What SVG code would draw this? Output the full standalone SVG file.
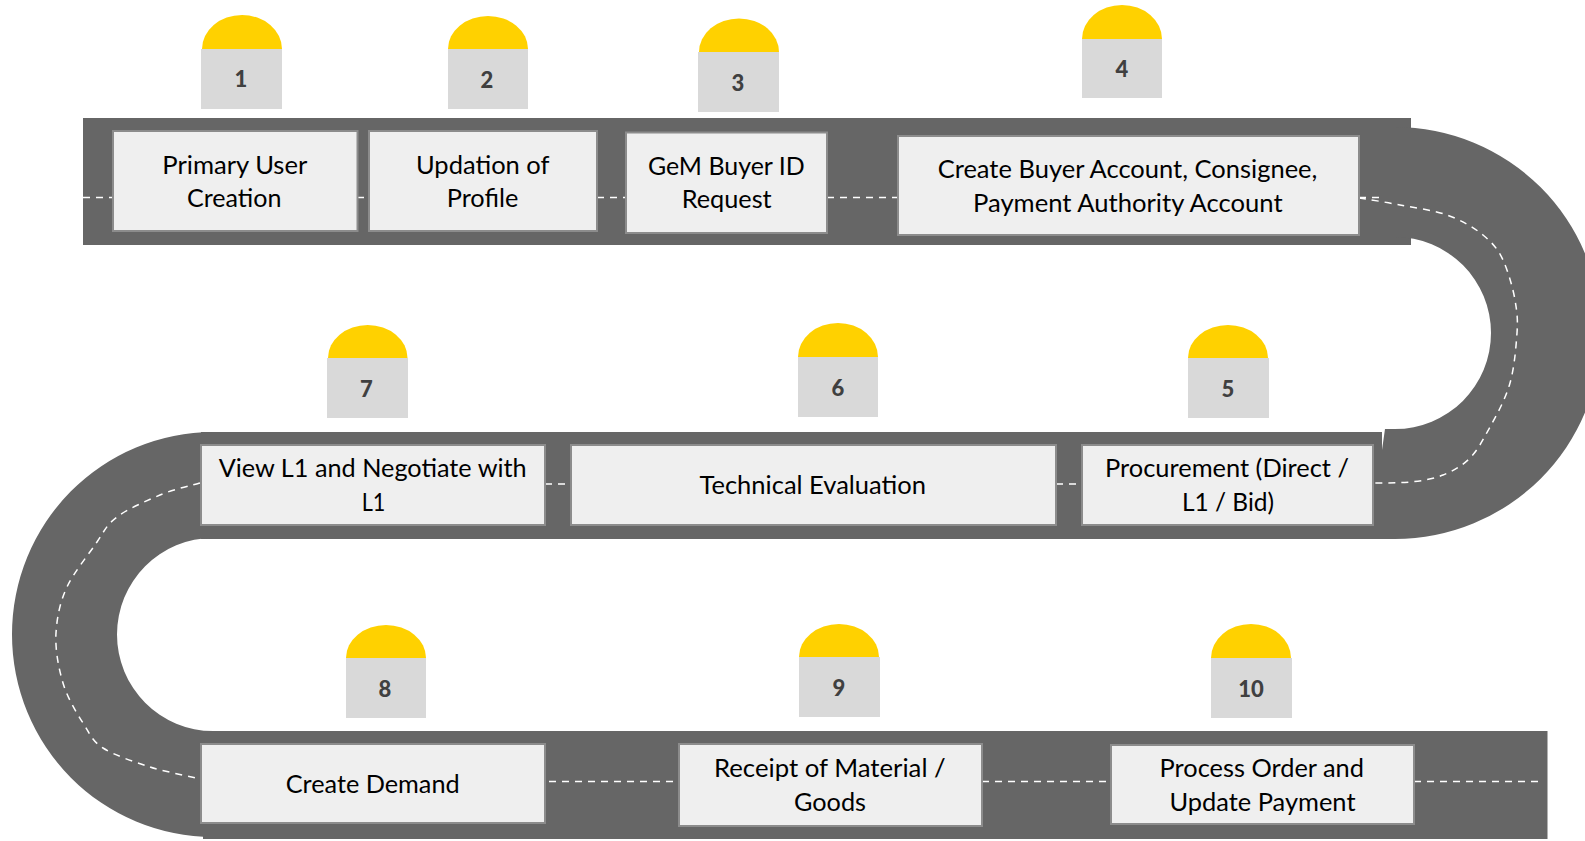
<svg xmlns="http://www.w3.org/2000/svg" width="1585" height="841" viewBox="0 0 1585 841">
<style>
.road{fill:#666666}
.dash{fill:none;stroke:#ffffff;stroke-width:1.5;stroke-dasharray:7 6}
.box{fill:#efefef;stroke:#8c8c8c;stroke-width:2}
.dome{fill:#ffd100}
.tag{fill:#d9d9d9}
.num{font-family:Lato,"Open Sans",sans-serif;font-weight:900;font-size:22px;fill:#404040;text-anchor:middle}
.lbl{font-family:Lato,"Open Sans",sans-serif;font-size:25px;fill:#000000}
</style>
<rect width="1585" height="841" fill="#ffffff"/>
<g id="road">
<rect class="road" x="83" y="118" width="1328" height="127"/>
<path class="road" d="M1395 127A206 206 0 0 1 1395 539L1382 539L1382 450L1385 429L1395 429A96 96 0 0 0 1395 237Z"/>
<rect class="road" x="201" y="432" width="1181" height="107"/>
<path class="road" d="M213 432A201 202.5 0 0 0 213 837L213 731A96 96.5 0 0 1 213 538Z"/>
<rect class="road" x="203" y="731" width="1344.500" height="108"/>
</g>
<g id="connectors">
<path class="dash" d="M83 197.500H113"/>
<path class="dash" d="M357 197.500H369"/>
<path class="dash" d="M597 197.500H626"/>
<path class="dash" d="M827 197.500H898"/>
<path class="dash" d="M1359 197.500H1382"/>
<path class="dash" d="M1359 198C1366 199 1385 202 1400 205C1415 208 1433 210 1447 215C1461 220 1474 227.500 1483 235C1492 242.500 1498 249 1503 260C1508 271 1513 288 1515 300C1517 312 1518 319 1517 333C1516 347 1514.500 367 1510 383C1505.500 399 1497 414.500 1490 427C1483 439.500 1478 450 1470 458C1462 466 1453 471 1443 475C1433 479 1421.500 481 1410 482C1398 483 1386 483 1374 483"/>
<path class="dash" d="M545 484H571"/>
<path class="dash" d="M1056 484H1082"/>
<path class="dash" d="M200 483C193 485 174 489 160 495C146 501 127.500 509 117 517C106.500 525 105 530 97 542C89 554 74 572 67 587C60 602 57 617 56 633C55 649 58.500 668 63 683C67.500 698 76 712 83 723C90 734 92 741 103 748C114 755 134 762 150 767C158 770 192 777 200 779"/>
<path class="dash" d="M549 781.500H679"/>
<path class="dash" d="M982 781.500H1111"/>
<path class="dash" d="M1414 781.500H1543"/>
</g>
<g id="node-1">
<path class="dome" d="M202 49A40 34 0 0 1 282 49Z"/><rect class="tag" x="201" y="49" width="81" height="60"/>
<text class="num" x="241" y="87">1</text>
<rect class="box" x="113" y="131" width="244.500" height="100"/>
<text class="lbl" x="162.300" y="174" textLength="145" lengthAdjust="spacingAndGlyphs">Primary User</text>
<text class="lbl" x="187" y="206.700" textLength="94.500" lengthAdjust="spacingAndGlyphs">Creation</text>
</g>
<g id="node-2">
<path class="dome" d="M448 49A40 33 0 0 1 528 49Z"/><rect class="tag" x="448" y="49" width="80" height="60"/>
<text class="num" x="487" y="87.500">2</text>
<rect class="box" x="369" y="131" width="228" height="100"/>
<text class="lbl" x="416" y="174" textLength="133.500" lengthAdjust="spacingAndGlyphs">Updation of</text>
<text class="lbl" x="446.700" y="206.700" textLength="71.600" lengthAdjust="spacingAndGlyphs">Profile</text>
</g>
<g id="node-3">
<path class="dome" d="M699 52A40 33.500 0 0 1 779 52Z"/><rect class="tag" x="698" y="52" width="81" height="60"/>
<text class="num" x="738" y="91">3</text>
<rect class="box" x="626" y="132.500" width="201" height="100.500"/>
<text class="lbl" x="648" y="175" textLength="156.700" lengthAdjust="spacingAndGlyphs">GeM Buyer ID</text>
<text class="lbl" x="681.700" y="208.300" textLength="90" lengthAdjust="spacingAndGlyphs">Request</text>
</g>
<g id="node-4">
<path class="dome" d="M1082 39A40 34 0 0 1 1162 39Z"/><rect class="tag" x="1082" y="39" width="80" height="59"/>
<text class="num" x="1122" y="77">4</text>
<rect class="box" x="898" y="136" width="461" height="99"/>
<text class="lbl" x="937.700" y="178" textLength="379.700" lengthAdjust="spacingAndGlyphs">Create Buyer Account, Consignee,</text>
<text class="lbl" x="973" y="211.700" textLength="309.600" lengthAdjust="spacingAndGlyphs">Payment Authority Account</text>
</g>
<g id="node-5">
<path class="dome" d="M1188 358A40 33 0 0 1 1268 358Z"/><rect class="tag" x="1188" y="358" width="81" height="60"/>
<text class="num" x="1228" y="397">5</text>
<rect class="box" x="1082" y="445" width="291" height="80"/>
<text class="lbl" x="1105" y="476.700" textLength="244" lengthAdjust="spacingAndGlyphs">Procurement (Direct /</text>
<text class="lbl" x="1182" y="511" textLength="92" lengthAdjust="spacingAndGlyphs">L1 / Bid)</text>
</g>
<g id="node-6">
<path class="dome" d="M798 357A40 34 0 0 1 878 357Z"/><rect class="tag" x="798" y="357" width="80" height="60"/>
<text class="num" x="838" y="396">6</text>
<rect class="box" x="571" y="445" width="485" height="80"/>
<text class="lbl" x="699.500" y="494" textLength="226.500" lengthAdjust="spacingAndGlyphs">Technical Evaluation</text>
</g>
<g id="node-7">
<path class="dome" d="M328 358A39.750 33 0 0 1 407.500 358Z"/><rect class="tag" x="327" y="358" width="81" height="60"/>
<text class="num" x="366.500" y="397">7</text>
<rect class="box" x="201" y="445" width="344" height="80"/>
<text class="lbl" x="218.700" y="476.700" textLength="308" lengthAdjust="spacingAndGlyphs">View L1 and Negotiate with</text>
<text class="lbl" x="361.700" y="511" textLength="23.700" lengthAdjust="spacingAndGlyphs">L1</text>
</g>
<g id="node-8">
<path class="dome" d="M346 658A40 33 0 0 1 426 658Z"/><rect class="tag" x="346" y="658" width="80" height="60"/>
<text class="num" x="385" y="697">8</text>
<rect class="box" x="201" y="744" width="344" height="79"/>
<text class="lbl" x="285.700" y="792.700" textLength="174" lengthAdjust="spacingAndGlyphs">Create Demand</text>
</g>
<g id="node-9">
<path class="dome" d="M799 657A40 33 0 0 1 879 657Z"/><rect class="tag" x="799" y="657" width="81" height="60"/>
<text class="num" x="839" y="696">9</text>
<rect class="box" x="679" y="744" width="303" height="82"/>
<text class="lbl" x="714" y="776.700" textLength="231.700" lengthAdjust="spacingAndGlyphs">Receipt of Material /</text>
<text class="lbl" x="794" y="810.700" textLength="72" lengthAdjust="spacingAndGlyphs">Goods</text>
</g>
<g id="node-10">
<path class="dome" d="M1211 658A40 34 0 0 1 1291 658Z"/><rect class="tag" x="1211" y="658" width="81" height="60"/>
<text class="num" x="1251" y="696.500">10</text>
<rect class="box" x="1111" y="745" width="303" height="79"/>
<text class="lbl" x="1159.600" y="776.700" textLength="204.400" lengthAdjust="spacingAndGlyphs">Process Order and</text>
<text class="lbl" x="1169.500" y="810.700" textLength="186" lengthAdjust="spacingAndGlyphs">Update Payment</text>
</g>
</svg>
